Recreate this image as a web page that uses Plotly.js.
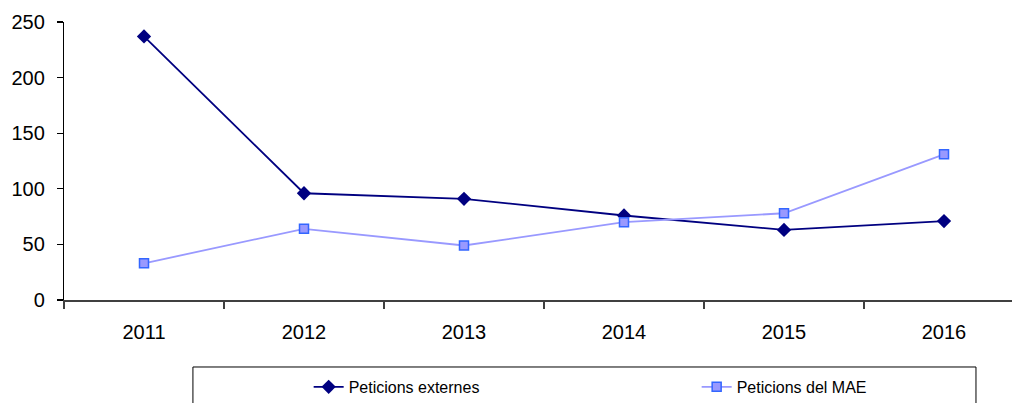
<!DOCTYPE html>
<html>
<head>
<meta charset="utf-8">
<script src="https://cdn.plot.ly/plotly-3.0.1.min.js"></script>
<style>html,body{margin:0;padding:0;background:#fff;}#chart{width:1012px;height:403px;}</style>
</head>
<body>
<div id="chart"></div>
<script>
const years = ["2011", "2012", "2013", "2014", "2015", "2016"];
const externes = [237, 96, 91, 76, 63, 71];
const mae = [33, 64, 49, 70, 78, 131];
const seriesNames = ["Peticions externes", "Peticions del MAE"];
const yTicks = [0, 50, 100, 150, 200, 250];

const traces = [
  {
    x: years, y: externes, name: seriesNames[0], type: "scatter", mode: "lines+markers",
    line: {color: "#000080", width: 1.8},
    marker: {symbol: "diamond", size: 11, color: "#000080", line: {width: 0}}
  },
  {
    x: years, y: mae, name: seriesNames[1], type: "scatter", mode: "lines+markers",
    line: {color: "#9999FF", width: 1.8},
    marker: {symbol: "square", size: 9, color: "#9999FF", line: {color: "#3366FF", width: 1.5}}
  }
];

const layout = {
  width: 1012, height: 403,
  margin: {l: 64, r: 0, t: 22, b: 103, pad: 0, autoexpand: false},
  paper_bgcolor: "#fff", plot_bgcolor: "#fff",
  font: {family: "Liberation Sans, Arial, sans-serif", color: "#000"},
  showlegend: true,
  xaxis: {
    type: "category", range: [-0.5, 5.425], autorange: false,
    showline: true, linecolor: "#404040", linewidth: 1.5,
    showgrid: false, zeroline: false,
    ticks: "outside", tickson: "boundaries", ticklen: 7, tickcolor: "#404040", tickwidth: 1.5,
    tickfont: {size: 20, color: "#000"}, ticklabelstandoff: 13
  },
  yaxis: {
    range: [0, 250], autorange: false, tickvals: yTicks,
    showline: true, linecolor: "#000", linewidth: 1.2,
    showgrid: false, zeroline: false,
    ticks: "outside", ticklen: 6, tickcolor: "#000", tickwidth: 1.2,
    tickfont: {size: 20, color: "#000"}, ticklabelstandoff: 8
  },
  legend: {
    orientation: "h", xref: "container", x: 0.305, xanchor: "left",
    yref: "container", y: 0.082, yanchor: "top",
    bgcolor: "rgba(0,0,0,0)", borderwidth: 0,
    font: {size: 16, color: "#000"},
    entrywidth: 343, entrywidthmode: "pixels", tracegroupgap: 0
  },
  shapes: [
    {type: "rect", xref: "paper", yref: "paper", x0: 0.136, x1: 0.962, y0: -0.241, y1: -0.45,
     line: {color: "#000", width: 1}, fillcolor: "rgba(0,0,0,0)"}
  ]
};

Plotly.newPlot("chart", traces, layout, {displayModeBar: false, staticPlot: true});
</script>
</body>
</html>
